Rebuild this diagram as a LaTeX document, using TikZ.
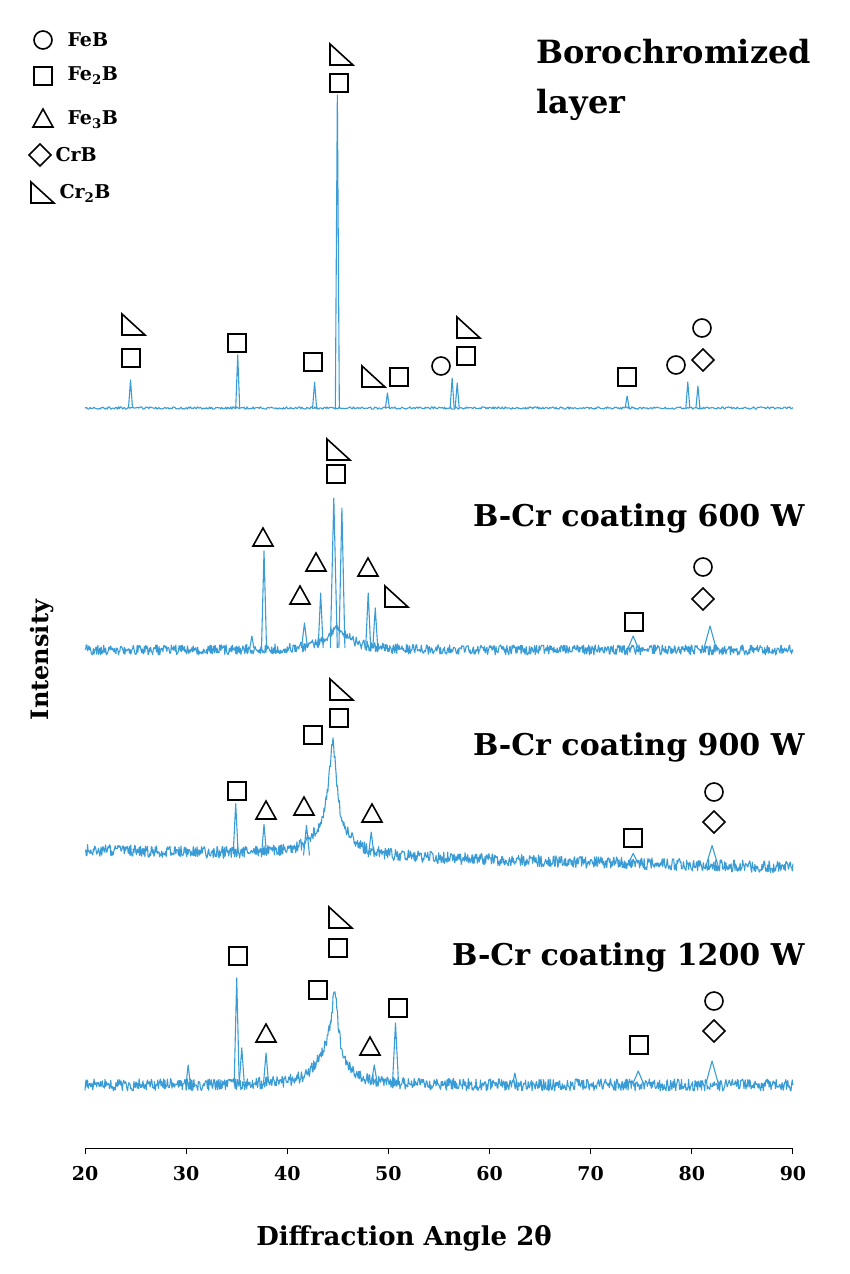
\documentclass[tikz,border=0pt]{standalone}
\usepackage{fontspec}
\setmainfont{DejaVu Serif}
\begin{document}
\begin{tikzpicture}[x=1pt,y=-1pt,
  trace/.style={draw={rgb,255:red,58;green,156;blue,214},line width=1.1pt,line join=round},
  mk/.style={draw=black,line width=1.6pt,fill=white},
  lab/.style={font=\bfseries\fontsize{30}{36}\selectfont,anchor=east},
  leg/.style={font=\bfseries\fontsize{19}{24}\selectfont,anchor=west},
  sq/.pic={\draw[mk] (-9,-9) rectangle (9,9);},
  ci/.pic={\draw[mk] (0,0) circle (9);},
  tr/.pic={\draw[mk,line join=miter] (-10,9) -- (0,-9) -- (10,9) -- cycle;},
  di/.pic={\draw[mk,line join=miter] (-11,0) -- (0,-11) -- (11,0) -- (0,11) -- cycle;},
  rt/.pic={\draw[mk,line join=miter] (-11,-11) -- (-11,10) -- (12,10) -- cycle;}
]
\newcommand\pk[4]{\draw[trace] ({85+(#1-20)*10.114-#4},{#2}) -- ({85+(#1-20)*10.114},{#2-(#3)}) -- ({85+(#1-20)*10.114+#4},{#2});}
\useasboundingbox (0,0) rectangle (850,1274);
\pgfmathsetseed{7}
% top trace
\draw[trace] plot[domain=20:90,samples=700] ({85+(\x-20)*10.114},{408+1.2*rand});
\foreach \c/\h in {44.95/313,24.5/28,35.1/53,42.7/26,49.9/15,56.3/30,56.8/25,73.6/12,79.6/26,80.6/22}{\pk{\c}{408}{\h}{2}}
% 600 W
\draw[trace] plot[domain=20:90,samples=1100] ({85+(\x-20)*10.114},
 {650-20*1.5*1.5/(2.25+(\x-45)*(\x-45))+5*rand});
\foreach \c/\h/\w in {37.7/97/2.5,41.7/25/3,43.3/55/2.5,44.6/150/3.5,45.4/140/3,48.0/55/2.5,48.7/40/2.5,74.2/12/5,81.8/22/6,36.5/12/2}{\pk{\c}{648}{\h}{\w}}
% 900 W
\draw[trace] plot[domain=20:90,samples=1100] ({85+(\x-20)*10.114},
 {850+0.25*(\x-20)-(80*0.16/(0.16+(\x-44.5)*(\x-44.5))+35*3.24/(3.24+(\x-44.3)*(\x-44.3)))+6*rand});
\foreach \c/\h/\w in {34.9/50/2.5,37.7/30/2.5,41.9/30/3,48.3/25/3,74.2/10/5,82/20/6}{\pk{\c}{850+0.25*(\c-20)}{\h}{\w}}
% 1200 W
\draw[trace] plot[domain=20:90,samples=1100] ({85+(\x-20)*10.114},
 {1085-(60*0.16/(0.16+(\x-44.7)*(\x-44.7))+35*2.25/(2.25+(\x-44.2)*(\x-44.2)))+6*rand});
\foreach \c/\h/\w in {30.2/18/2,35/105/2.5,35.5/35/2.5,37.9/30/2.5,48.6/18/3,50.7/60/3,62.5/10/2,74.7/12/5,82/22/6}{\pk{\c}{1083}{\h}{\w}}
% axis
\draw[line width=1pt] (85,1148) -- (793,1148);
\foreach \v in {20,30,...,90}{
  \draw[line width=1pt] ({85+(\v-20)*10.114},1148) -- ({85+(\v-20)*10.114},1154);
  \node[font=\bfseries\fontsize{19}{24}\selectfont] at ({85+(\v-20)*10.114},1174) {\v};}
\node[font=\bfseries\fontsize{26}{30}\selectfont] at (404,1238) {Diffraction Angle 2θ};
\node[font=\bfseries\fontsize{24}{28}\selectfont,rotate=90] at (42,660) {Intensity};
% legend
\pic at (43,40) {ci}; \node[leg] at (64,40) {FeB};
\pic at (43,76) {sq}; \node[leg] at (64,76) {Fe\textsubscript{2}B};
\pic at (43,118) {tr}; \node[leg] at (64,120) {Fe\textsubscript{3}B};
\pic at (40,155) {di}; \node[leg] at (52,155) {CrB};
\pic at (42,193) {rt}; \node[leg] at (56,193) {Cr\textsubscript{2}B};
\node[lab,anchor=west,font=\bfseries\fontsize{32}{36}\selectfont] at (533,52) {Borochromized};
\node[lab,anchor=west,font=\bfseries\fontsize{32}{36}\selectfont] at (533,105) {layer};
\node[lab] at (808,518) {B-Cr coating 600 W};
\node[lab] at (808,747) {B-Cr coating 900 W};
\node[lab] at (808,957) {B-Cr coating 1200 W};
% top markers
\pic at (133,325) {rt}; \pic at (131,358) {sq}; \pic at (237,343) {sq};
\pic at (313,362) {sq}; \pic at (341,55) {rt}; \pic at (339,83) {sq};
\pic at (373,377) {rt}; \pic at (399,377) {sq}; \pic at (441,366) {ci};
\pic at (468,328) {rt}; \pic at (466,356) {sq}; \pic at (627,377) {sq};
\pic at (676,365) {ci}; \pic at (702,328) {ci}; \pic at (703,360) {di};
% 600 W
\pic at (338,450) {rt}; \pic at (336,474) {sq}; \pic at (263,537) {tr};
\pic at (316,562) {tr}; \pic at (300,595) {tr}; \pic at (368,567) {tr};
\pic at (396,597) {rt}; \pic at (634,622) {sq}; \pic at (703,567) {ci};
\pic at (703,599) {di};
% 900 W
\pic at (341,690) {rt}; \pic at (339,718) {sq}; \pic at (313,735) {sq};
\pic at (237,791) {sq}; \pic at (266,810) {tr}; \pic at (304,806) {tr};
\pic at (372,813) {tr}; \pic at (633,838) {sq}; \pic at (714,792) {ci};
\pic at (714,822) {di};
% 1200 W
\pic at (340,918) {rt}; \pic at (338,948) {sq}; \pic at (238,956) {sq};
\pic at (318,990) {sq}; \pic at (398,1008) {sq}; \pic at (266,1033) {tr};
\pic at (370,1046) {tr}; \pic at (639,1045) {sq}; \pic at (714,1001) {ci};
\pic at (714,1031) {di};
\end{tikzpicture}
\end{document}
